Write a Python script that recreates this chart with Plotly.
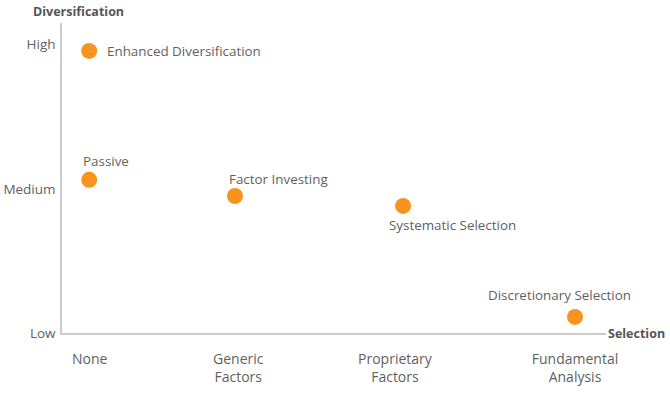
import plotly.graph_objects as go

# Data
names = ["Enhanced Diversification", "Passive", "Factor Investing",
         "Systematic Selection", "Discretionary Selection"]
selection = [0.5, 0.5, 3.18, 6.27, 9.43]
diversification = [9.1, 4.94, 4.42, 4.1, 0.52]

x_tickvals = [0.51, 3.24, 6.12, 9.43]
x_ticktext = ["None", "Generic<br>Factors", "Proprietary<br>Factors", "Fundamental<br>Analysis"]
y_tickvals = [0, 4.65, 9.32]
y_ticktext = ["Low", "Medium", "High"]

# label placement styling: (xanchor, xshift, yshift)
label_style = [
    ("left", 16, 0),
    ("left", -8, 19),
    ("left", -8, 17),
    ("left", -16, -19),
    ("center", -15, 22),
]

FONT = "Open Sans, sans-serif"
TEXT = "#5f5f5f"
ORANGE = "#F7931E"

fig = go.Figure()
fig.add_trace(go.Scatter(
    x=selection, y=diversification, mode="markers",
    marker=dict(size=16, color=ORANGE),
    hoverinfo="text", hovertext=names, showlegend=False,
))

annotations = []
for n, xv, yv, (xa, xs, ys) in zip(names, selection, diversification, label_style):
    annotations.append(dict(
        x=xv, y=yv, xref="x", yref="y", text=n, showarrow=False,
        xanchor=xa, yanchor="middle", xshift=xs, yshift=ys,
        font=dict(family=FONT, size=13.4, color=TEXT),
    ))
annotations.append(dict(
    x=0.031, y=1.0, xref="paper", yref="paper", text="<b>Diversification</b>",
    showarrow=False, xanchor="center", yanchor="bottom", yshift=1,
    font=dict(family=FONT, size=12.5, color="#555555"),
))
annotations.append(dict(
    x=1.0, y=0, xref="paper", yref="paper", text="<b>Selection</b>",
    showarrow=False, xanchor="left", yanchor="middle", xshift=0,
    font=dict(family=FONT, size=12.5, color="#555555"),
))

fig.update_layout(
    width=670, height=396,
    margin=dict(l=62, r=64, t=23, b=63),
    paper_bgcolor="white", plot_bgcolor="white",
    font=dict(family=FONT, size=13.5, color=TEXT),
    annotations=annotations,
    xaxis=dict(
        range=[0, 10], showgrid=False, zeroline=False, automargin=False,
        showline=True, linecolor="#cccccc", linewidth=1.5,
        tickmode="array", tickvals=x_tickvals, ticktext=x_ticktext,
        ticks="outside", ticklen=12, tickcolor="rgba(0,0,0,0)",
        tickfont=dict(size=14),
        fixedrange=True,
    ),
    yaxis=dict(
        range=[0, 10], showgrid=False, zeroline=False, automargin=False,
        showline=True, linecolor="#cccccc", linewidth=1.5,
        tickmode="array", tickvals=y_tickvals, ticktext=y_ticktext,
        ticks="outside", ticklen=2, tickcolor="rgba(0,0,0,0)",
        fixedrange=True,
    ),
)

fig.write_html("out.html")
